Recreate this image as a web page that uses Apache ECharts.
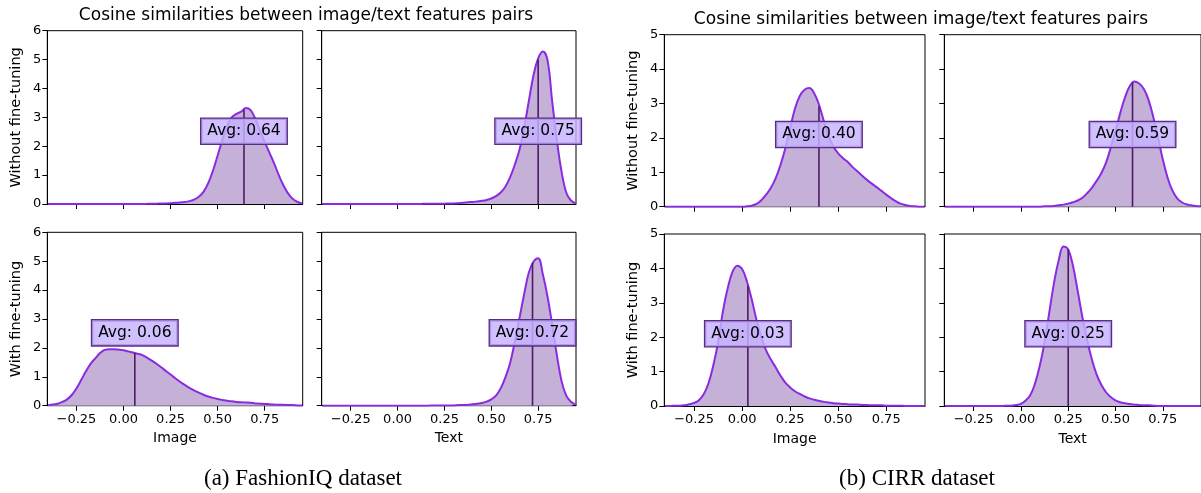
<!DOCTYPE html>
<html>
<head>
<meta charset="utf-8">
<script src="https://cdn.jsdelivr.net/npm/echarts@6/dist/echarts.min.js"></script>
<style>
html,body{margin:0;padding:0;background:#fff;}
#chart{width:1201px;height:493px;}
</style>
</head>
<body>
<div id="chart"></div>
<script>
// ---------- data ----------
const xTicks = [-0.25, 0.00, 0.25, 0.50, 0.75];
const xTickLabels = ['\u22120.25', '0.00', '0.25', '0.50', '0.75'];
const rowNames = ['Without fine-tuning', 'With fine-tuning'];
const colNames = ['Image', 'Text'];
const datasetCaptions = ['(a) FashionIQ dataset', '(b) CIRR dataset'];
const suptitle = 'Cosine similarities between image/text features pairs';
const yMaxByDataset = [6, 5];

// sample positions (cosine similarity) at which each density curve was read
const simX = [-0.40, -0.375, -0.35, -0.325, -0.30, -0.275, -0.25, -0.225, -0.20, -0.175,
  -0.15, -0.125, -0.10, -0.075, -0.05, -0.025, 0.00, 0.025, 0.05, 0.075,
  0.10, 0.125, 0.15, 0.175, 0.20, 0.225, 0.25, 0.275, 0.30, 0.325,
  0.35, 0.375, 0.40, 0.425, 0.45, 0.475, 0.50, 0.525, 0.55, 0.575,
  0.60, 0.625, 0.65, 0.675, 0.70, 0.725, 0.75, 0.775, 0.80, 0.825,
  0.85, 0.875, 0.90, 0.925, 0.95];

// FashionIQ, Image, without fine-tuning
const fiqImgBase = [0,0,0,0,0,0,0,0,0,0, 0,0,0,0,0,0,0,0,0,0,
  0.003,0.005,0.008,0.01,0.015,0.02,0.03,0.04,0.05,0.07,
  0.10,0.15,0.25,0.42,0.72,1.15,1.68,2.22,2.70,3.00,
  3.12,3.20,3.32,3.25,2.95,2.55,2.15,1.78,1.41,1.00,
  0.64,0.36,0.17,0.07,0.02];
// FashionIQ, Text, without fine-tuning
const fiqTxtBase = [0,0,0,0,0,0,0,0,0,0, 0,0,0,0,0,0,0,0,0,0,
  0.002,0.004,0.006,0.008,0.01,0.01,0.01,0.02,0.02,0.03,
  0.04,0.06,0.07,0.09,0.11,0.14,0.19,0.27,0.40,0.60,
  0.92,1.35,1.87,2.62,3.55,4.45,5.04,5.28,4.98,3.55,
  2.20,1.12,0.40,0.12,0.03];
// FashionIQ, Image, with fine-tuning
const fiqImgFt = [0.02,0.04,0.07,0.13,0.22,0.37,0.60,0.89,1.19,1.45,
  1.64,1.82,1.93,1.95,1.95,1.94,1.92,1.88,1.84,1.80,
  1.75,1.66,1.56,1.45,1.33,1.20,1.08,0.95,0.83,0.72,
  0.62,0.53,0.45,0.38,0.32,0.27,0.23,0.20,0.17,0.15,
  0.13,0.12,0.11,0.10,0.08,0.07,0.06,0.05,0.04,0.03,
  0.03,0.02,0.02,0.01,0.01];
// FashionIQ, Text, with fine-tuning
const fiqTxtFt = [0,0,0,0,0,0,0,0,0,0, 0,0,0,0,0,0,0,0,0,0, 0,0,0,
  0.003,0.005,0.007,0.008,0.01,0.01,0.02,
  0.02,0.03,0.05,0.07,0.09,0.14,0.22,0.35,0.60,0.98,
  1.47,2.20,3.02,3.85,4.60,4.98,5.10,4.55,3.78,2.80,
  1.75,0.85,0.35,0.14,0.04];
// CIRR, Image, without fine-tuning
const cirrImgBase = [0,0,0,0,0,0,0,0,0,0, 0,0,0,0,0,0,0,
  0.01,0.03,0.08,
  0.19,0.35,0.55,0.83,1.22,1.70,2.28,2.85,3.22,3.40,
  3.45,3.30,2.97,2.50,2.05,1.75,1.55,1.41,1.30,1.15,
  1.03,0.90,0.78,0.67,0.57,0.46,0.35,0.25,0.16,0.09,
  0.05,0.02,0.01,0,0];
// CIRR, Text, without fine-tuning
const cirrTxtBase = [0,0,0,0,0,0,0,0,0,0, 0,0,0,0,0,0,0,0,0,0, 0,
  0.01,0.01,0.02,0.04,0.06,0.09,0.13,0.18,0.26,
  0.39,0.55,0.75,0.97,1.28,1.72,2.20,2.72,3.17,3.50,
  3.64,3.58,3.42,3.10,2.60,2.00,1.38,0.85,0.48,0.25,
  0.13,0.07,0.04,0.02,0.01];
// CIRR, Image, with fine-tuning
const cirrImgFt = [0,0,0.01,0.01,0.02,0.05,0.09,0.17,0.34,0.66,
  1.18,1.85,2.75,3.42,3.90,4.08,3.98,3.62,3.10,2.50,
  2.00,1.62,1.35,1.12,0.88,0.68,0.54,0.43,0.35,0.28,
  0.22,0.18,0.15,0.12,0.10,0.08,0.07,0.06,0.05,0.04,
  0.04,0.03,0.03,0.02,0.02,0.02,0.01,0.01,0.01,0.01,
  0,0,0,0,0];
// CIRR, Text, with fine-tuning
const cirrTxtFt = [0,0,0,0,0,0,0,0,0,0, 0,0,0,
  0.01,0.01,0.03,0.06,0.16,0.32,0.66,
  1.18,1.85,2.72,3.58,4.24,4.64,4.55,4.08,3.35,2.58,
  1.92,1.36,0.92,0.62,0.40,0.26,0.16,0.11,0.08,0.06,
  0.04,0.03,0.02,0.02,0.01,
  0,0,0,0,0,0,0,0,0,0];

// panel order: FIQ img base, FIQ txt base, FIQ img ft, FIQ txt ft, CIRR img base, CIRR txt base, CIRR img ft, CIRR txt ft
const averages   = [0.64, 0.75, 0.06, 0.72, 0.40, 0.59, 0.03, 0.25];
const avgHeights = [3.27, 5.00, 1.82, 4.95, 2.92, 3.62, 3.50, 4.55];
const labelYs    = [2.52, 2.52, 2.52, 2.52, 2.10, 2.10, 2.10, 2.10];

// ---------- layout ----------
const curves = [fiqImgBase, fiqTxtBase, fiqImgFt, fiqTxtFt, cirrImgBase, cirrTxtBase, cirrImgFt, cirrTxtFt];

const gridBoxes = [
  {left: 47.3, top: 30.7, width: 255.4, height: 173.3},
  {left: 321.7, top: 30.7, width: 254.3, height: 173.3},
  {left: 47.3, top: 232.3, width: 255.4, height: 173.4},
  {left: 321.7, top: 232.3, width: 254.3, height: 173.4},
  {left: 664.3, top: 34.7, width: 260.7, height: 172},
  {left: 944.3, top: 34.7, width: 260.7, height: 172},
  {left: 664.3, top: 234, width: 260.7, height: 172},
  {left: 944.3, top: 234, width: 260.7, height: 172}
];

const FONT = 'DejaVu Sans';
const LINE = '#8a2be2';
const FILL = '#c5b1d8';
const AVG = '#4e1a66';

const grids = [], xAxes = [], yAxes = [], series = [];
for (let i = 0; i < 8; i++) {
  const ds = i < 4 ? 0 : 1;
  const local = i % 4;
  const row = local < 2 ? 0 : 1;
  const col = local % 2;
  const yMax = yMaxByDataset[ds];
  grids.push(Object.assign({show: true, borderColor: '#000', borderWidth: 1, backgroundColor: 'transparent'}, gridBoxes[i]));
  xAxes.push({
    type: 'value', gridIndex: i, min: -0.405, max: 0.952,
    name: row === 1 ? colNames[col] : '',
    nameLocation: 'middle', nameGap: 26,
    nameTextStyle: {fontFamily: FONT, fontSize: 14, color: '#000'},
    splitLine: {show: false},
    axisLine: {show: true, onZero: false, lineStyle: {color: '#000', width: 1}},
    axisTick: {show: true, length: 5, lineStyle: {color: '#000'}, customValues: xTicks},
    axisLabel: {show: row === 1, customValues: xTicks, fontFamily: FONT, fontSize: 13, color: '#000', margin: 7,
      formatter: v => { const k = xTicks.findIndex(t => Math.abs(t - v) < 1e-6); return k >= 0 ? xTickLabels[k] : ''; }}
  });
  yAxes.push({
    type: 'value', gridIndex: i, min: 0, max: yMax, interval: 1,
    name: col === 0 ? rowNames[row] : '',
    nameLocation: 'middle', nameGap: 24, nameRotate: 90,
    nameTextStyle: {fontFamily: FONT, fontSize: 14.5, color: '#000'},
    splitLine: {show: false},
    axisLine: {show: true, onZero: false, lineStyle: {color: '#000', width: 1}},
    axisTick: {show: true, length: 5, lineStyle: {color: '#000'}},
    axisLabel: {show: col === 0, fontFamily: FONT, fontSize: 13, color: '#000', margin: 6}
  });
  const pts = simX.map((x, k) => [x, curves[i][k]]);
  series.push({
    type: 'line', xAxisIndex: i, yAxisIndex: i, data: pts,
    smooth: 0.4, symbol: 'none', z: 2,
    lineStyle: {color: LINE, width: 2},
    areaStyle: {color: FILL, opacity: 1}
  });
  series.push({
    type: 'line', xAxisIndex: i, yAxisIndex: i, z: 3, symbol: 'none',
    data: [[averages[i], 0], [averages[i], avgHeights[i]]],
    lineStyle: {color: AVG, width: 1.6}
  });
  series.push({
    type: 'scatter', xAxisIndex: i, yAxisIndex: i, z: 5, symbolSize: 1,
    itemStyle: {color: 'rgba(0,0,0,0)'}, clip: false,
    data: [[averages[i], labelYs[i]]],
    label: {
      show: true, position: 'inside',
      formatter: 'Avg: ' + averages[i].toFixed(2),
      fontFamily: FONT, fontSize: 15.5, color: '#000',
      textBorderWidth: 0, opacity: 1,
      backgroundColor: 'rgba(198,178,255,0.82)',
      borderColor: '#5b2c83', borderWidth: 1.3,
      padding: [5, 6, 4, 6]
    }
  });
}

const titles = [
  {text: suptitle, left: 301, top: 2, textAlign: 'center', textStyle: {fontFamily: FONT, fontSize: 17, fontWeight: 'normal', color: '#000'}},
  {text: suptitle, left: 916, top: 6, textAlign: 'center', textStyle: {fontFamily: FONT, fontSize: 17, fontWeight: 'normal', color: '#000'}},
  {text: datasetCaptions[0], left: 298, top: 462, textAlign: 'center', textStyle: {fontFamily: 'Liberation Serif', fontSize: 23, fontWeight: 'normal', color: '#000'}},
  {text: datasetCaptions[1], left: 912, top: 462, textAlign: 'center', textStyle: {fontFamily: 'Liberation Serif', fontSize: 23, fontWeight: 'normal', color: '#000'}}
];

const chart = echarts.init(document.getElementById('chart'), null, {renderer: 'canvas'});
chart.setOption({
  animation: false,
  backgroundColor: '#fff',
  title: titles,
  grid: grids,
  xAxis: xAxes,
  yAxis: yAxes,
  series: series
});
</script>
</body>
</html>
